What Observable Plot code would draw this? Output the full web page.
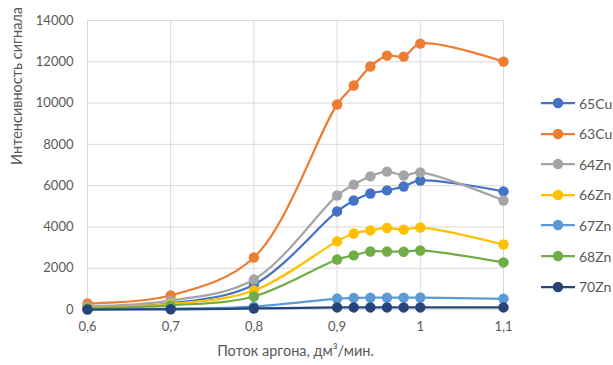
<!DOCTYPE html>
<html><head><meta charset="utf-8">
<script src="https://cdn.jsdelivr.net/npm/d3@7"></script>
<script src="https://cdn.jsdelivr.net/npm/@observablehq/plot@0.6"></script>
<style>
body{margin:0;background:#fff;}
#wrap{position:relative;width:613px;height:365px;overflow:hidden;font-family:Lato,"Open Sans",sans-serif;}
.leg{position:absolute;left:541px;height:20px;display:flex;align-items:center;font-size:14px;color:#595959;white-space:nowrap;}
</style></head>
<body><div id="wrap"></div>
<script>
const flow = [0.6, 0.7, 0.8, 0.9, 0.92, 0.94, 0.96, 0.98, 1.0, 1.1];
const seriesNames = ["65Cu", "63Cu", "64Zn", "66Zn", "67Zn", "68Zn", "70Zn"];
const seriesColors = ["#4472C4", "#ED7D31", "#A5A5A5", "#FFC000", "#5B9BD5", "#70AD47", "#264478"];
const cu65 = [100, 300, 1200, 4750, 5280, 5620, 5770, 5960, 6250, 5720];
const cu63 = [290, 680, 2520, 9930, 10850, 11770, 12300, 12250, 12880, 12010];
const zn64 = [150, 430, 1450, 5520, 6050, 6450, 6680, 6490, 6640, 5280];
const zn66 = [80, 260, 920, 3300, 3680, 3830, 3950, 3870, 3970, 3150];
const zn67 = [20, 40, 140, 530, 560, 570, 570, 575, 580, 520];
const zn68 = [60, 200, 630, 2420, 2620, 2810, 2810, 2800, 2860, 2280];
const zn70 = [0, 10, 50, 100, 100, 100, 100, 100, 100, 100];
const xTicks = [0.6, 0.7, 0.8, 0.9, 1.0, 1.1];
const yTicks = [0, 2000, 4000, 6000, 8000, 10000, 12000, 14000];
const xLabel = "Поток аргона, дм³/мин.";
const yLabel = "Интенсивность сигнала";

const allValues = [cu65, cu63, zn64, zn66, zn67, zn68, zn70];
const marks = [
  Plot.gridX(xTicks, {stroke: "#D9D9D9", strokeOpacity: 1, strokeWidth: 1}),
  Plot.gridY(yTicks, {stroke: "#D9D9D9", strokeOpacity: 1, strokeWidth: 1}),
  Plot.axisX(xTicks, {tickSize: 0, tickPadding: 12, fontSize: 13, fill: "#595959",
    tickFormat: d => String(d).replace(".", ","), label: null}),
  Plot.axisY(yTicks, {tickSize: 0, tickPadding: 14, fontSize: 13, fill: "#595959",
    tickFormat: d => String(d), label: null}),
  Plot.text([xLabel], {text: d => d, frameAnchor: "bottom", dy: 46, fontSize: 14.5, fill: "#595959"}),
  Plot.text([yLabel], {text: d => d, frameAnchor: "left", dx: -70, rotate: -90, fontSize: 14.5, fill: "#595959"})
];
allValues.forEach((vals, i) => {
  const data = flow.map((x, j) => ({x, y: vals[j]}));
  marks.push(Plot.line(data, {x: "x", y: "y", stroke: seriesColors[i], strokeWidth: 2.25, curve: "catmull-rom"}));
  marks.push(Plot.dot(data, {x: "x", y: "y", fill: seriesColors[i], r: 5.2}));
});
const chart = Plot.plot({
  width: 613, height: 365,
  marginLeft: 87, marginRight: 110, marginTop: 20, marginBottom: 56,
  style: {fontFamily: "Lato, 'Open Sans', sans-serif", fontSize: "13px", color: "#595959", background: "#fff"},
  x: {domain: [0.6, 1.1]},
  y: {domain: [0, 14000]},
  marks
});
const wrap = document.getElementById("wrap");
wrap.appendChild(chart);
seriesNames.forEach((name, i) => {
  const d = document.createElement("div");
  d.className = "leg";
  d.style.top = (93 + i * 30.6) + "px";
  d.innerHTML = `<svg width="36" height="20"><line x1="0" y1="10" x2="34" y2="10" stroke="${seriesColors[i]}" stroke-width="2.25"/><circle cx="17" cy="10" r="5.2" fill="${seriesColors[i]}"/></svg><span style="margin-left:2px">${name}</span>`;
  wrap.appendChild(d);
});
</script></body></html>
